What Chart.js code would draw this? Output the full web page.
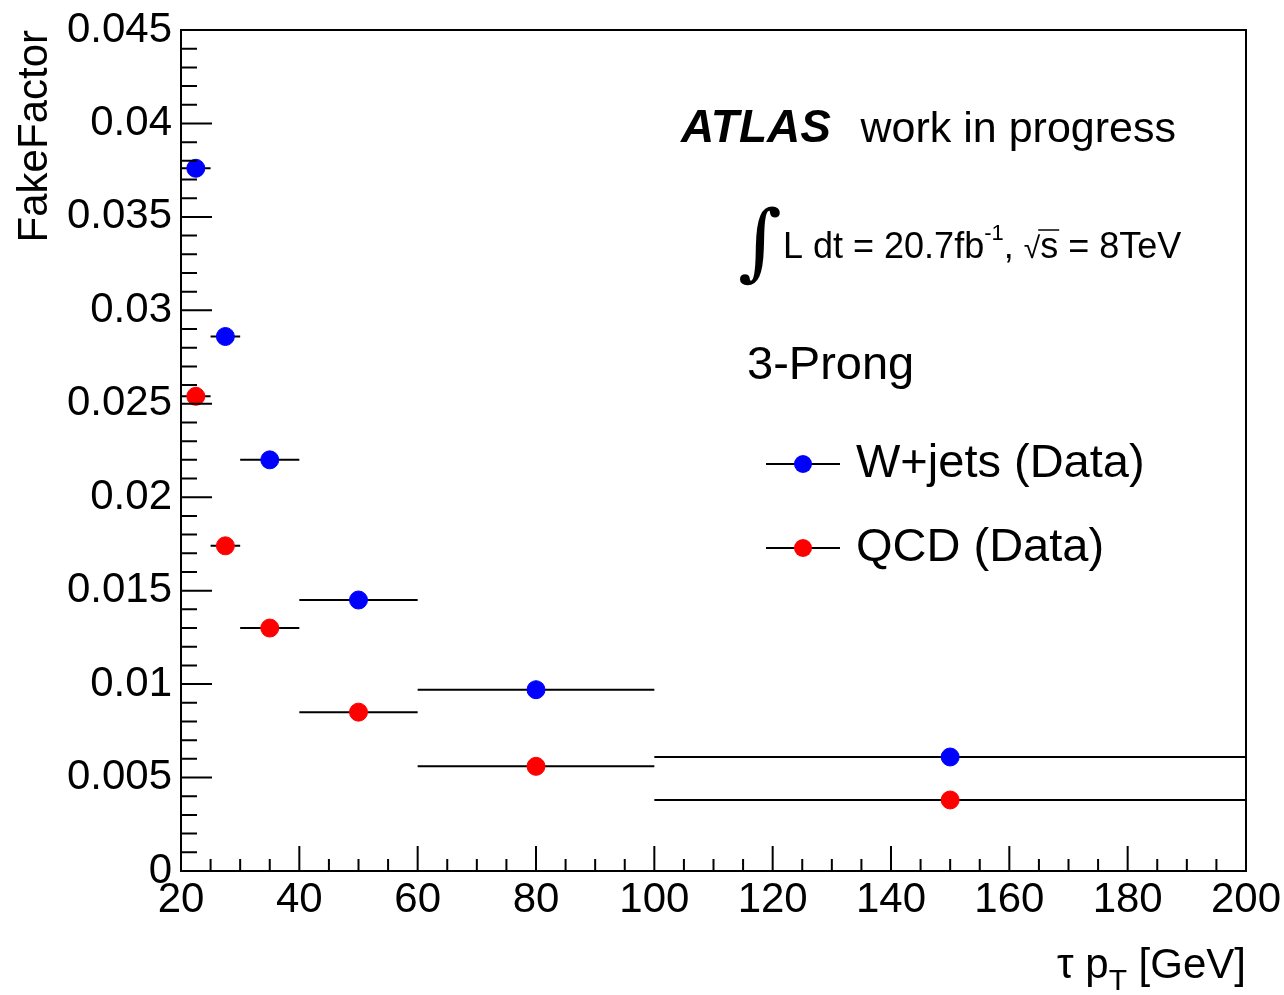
<!DOCTYPE html>
<html>
<head>
<meta charset="utf-8">
<title>FakeFactor 3-Prong</title>
<script src="https://cdn.jsdelivr.net/npm/chart.js@4.4.0/dist/chart.umd.min.js"></script>
<style>
  html, body { margin: 0; padding: 0; background: #fff; }
  #wrap { width: 1284px; height: 995px; }
</style>
</head>
<body>
<div id="wrap"><canvas id="ff"></canvas></div>
<script>
// tau pT bins [GeV]
const binEdges = [20, 25, 30, 40, 60, 100, 200];
const binCenters = [22.5, 27.5, 35, 50, 80, 150];

// fake factors
const wjetsFF = [0.0376, 0.0286, 0.0220, 0.0145, 0.0097, 0.0061];
const qcdFF = [0.0254, 0.0174, 0.0130, 0.0085, 0.0056, 0.0038];

const xTicks = [20, 40, 60, 80, 100, 120, 140, 160, 180, 200];
const yTicks = [0, 0.005, 0.01, 0.015, 0.02, 0.025, 0.03, 0.035, 0.04, 0.045];

const FONT = '"Liberation Sans", Arial, Helvetica, sans-serif';

function points(vals) {
    return binCenters.map((x, i) => ({ x: x, y: vals[i] }));
}

// horizontal bars = bin widths, broken by null points
function xErrors(vals) {
    const out = [];
    vals.forEach((v, i) => {
        out.push({ x: binEdges[i], y: v });
        out.push({ x: binEdges[i + 1], y: v });
        out.push({ x: binEdges[i + 1], y: null });
    });
    return out;
}

// ROOT style inward ticks, frame, labels
const rootStyle = {
    id: 'rootStyle',
    afterDraw(chart) {
        const ctx = chart.ctx;
        const a = chart.chartArea;
        const xs = chart.scales.x, ys = chart.scales.y;
        ctx.save();
        ctx.strokeStyle = '#000';
        ctx.lineWidth = 2;
        ctx.beginPath();
        for (let v = 20; v <= 200; v += 5) {
            const px = xs.getPixelForValue(v);
            const len = (v % 20 === 0) ? 25 : 12;
            ctx.moveTo(px, a.bottom);
            ctx.lineTo(px, a.bottom - len);
        }
        for (let k = 0; k <= 45; k++) {
            const py = ys.getPixelForValue(k / 1000);
            const len = (k % 5 === 0) ? 31 : 16;
            ctx.moveTo(a.left, py);
            ctx.lineTo(a.left + len, py);
        }
        ctx.stroke();
        ctx.strokeRect(a.left, a.top, a.right - a.left, a.bottom - a.top);

        ctx.fillStyle = '#000';
        ctx.textBaseline = 'alphabetic';

        // x title: tau p_T [GeV]
        ctx.font = '42px ' + FONT;
        const t1 = '\u03C4 p', t3 = ' [GeV]';
        const w3 = ctx.measureText(t3).width;
        ctx.font = '30px ' + FONT;
        const w2 = ctx.measureText('T').width;
        ctx.font = '42px ' + FONT;
        const w1 = ctx.measureText(t1).width;
        let x = a.right - w1 - w2 - w3;
        const base = 978;
        ctx.fillText(t1, x, base);
        ctx.font = '30px ' + FONT;
        ctx.fillText('T', x + w1, base + 12);
        ctx.font = '42px ' + FONT;
        ctx.fillText(t3, x + w1 + w2, base);

        // ATLAS label
        ctx.font = 'italic bold 46px ' + FONT;
        ctx.fillText('ATLAS', 681, 142);
        ctx.font = '43px ' + FONT;
        ctx.textAlign = 'right';
        ctx.fillText('work in progress', 1176, 142);
        ctx.textAlign = 'left';

        // luminosity line
        ctx.font = '84px "DejaVu Serif", "Liberation Serif", serif';
        ctx.fillText('\u222B', 738, 270);
        let lx = 783;
        const ly = 258;
        const seg = (s, f, dy) => {
            ctx.font = f;
            ctx.fillText(s, lx, ly + (dy || 0));
            lx += ctx.measureText(s).width;
        };
        seg('L dt = 20.7fb', '36px ' + FONT);
        seg('-1', '22px ' + FONT, -18);
        seg(', ', '36px ' + FONT);
        seg('\u221A', '30px ' + FONT);
        const sx = lx;
        seg('s', '36px ' + FONT);
        ctx.lineWidth = 1.5;
        ctx.beginPath();
        ctx.moveTo(sx - 2, ly - 28);
        ctx.lineTo(lx + 1, ly - 28);
        ctx.stroke();
        seg(' = 8TeV', '36px ' + FONT);

        ctx.font = '47px ' + FONT;
        ctx.fillText('3-Prong', 747, 379);

        // legend
        const entries = [
            { label: 'W+jets (Data)', color: '#0000ff', y: 464 },
            { label: 'QCD (Data)', color: '#ff0000', y: 548 }
        ];
        entries.forEach(e => {
            ctx.lineWidth = 2;
            ctx.strokeStyle = '#000';
            ctx.beginPath();
            ctx.moveTo(766, e.y);
            ctx.lineTo(840, e.y);
            ctx.stroke();
            ctx.fillStyle = e.color;
            ctx.beginPath();
            ctx.arc(803, e.y, 9, 0, Math.PI * 2);
            ctx.fill();
            ctx.fillStyle = '#000';
            ctx.font = '47px ' + FONT;
            ctx.textBaseline = 'middle';
            ctx.fillText(e.label, 856, e.y);
            ctx.textBaseline = 'alphabetic';
        });
        ctx.restore();
    }
};

const ctx = document.getElementById('ff').getContext('2d');
new Chart(ctx, {
    type: 'scatter',
    data: {
        datasets: [
            {
                label: 'W+jets (Data)',
                data: points(wjetsFF),
                backgroundColor: '#0000ff',
                borderColor: '#0000ff',
                pointRadius: 9,
                pointHoverRadius: 9,
                order: 0
            },
            {
                label: 'QCD (Data)',
                data: points(qcdFF),
                backgroundColor: '#ff0000',
                borderColor: '#ff0000',
                pointRadius: 9,
                pointHoverRadius: 9,
                order: 0
            },
            {
                label: 'W+jets bins',
                data: xErrors(wjetsFF),
                showLine: true,
                spanGaps: false,
                borderColor: '#000',
                borderWidth: 2,
                pointRadius: 0,
                order: 1
            },
            {
                label: 'QCD bins',
                data: xErrors(qcdFF),
                showLine: true,
                spanGaps: false,
                borderColor: '#000',
                borderWidth: 2,
                pointRadius: 0,
                order: 1
            }
        ]
    },
    options: {
        responsive: true,
        maintainAspectRatio: false,
        animation: false,
        layout: { padding: { top: 30, right: 38, left: 0, bottom: 0 } },
        plugins: {
            legend: { display: false },
            tooltip: { enabled: false }
        },
        scales: {
            x: {
                type: 'linear',
                min: 20,
                max: 200,
                afterBuildTicks: s => { s.ticks = xTicks.map(v => ({ value: v })); },
                afterFit: s => {
                    s.height = 124;
                    s.paddingLeft = 0;
                    s.paddingRight = 0;
                },
                grid: { display: false, drawTicks: false },
                border: { display: true, color: '#000', width: 2 },
                ticks: {
                    color: '#000',
                    padding: 4,
                    maxRotation: 0,
                    font: { family: FONT, size: 42 }
                }
            },
            y: {
                type: 'linear',
                min: 0,
                max: 0.045,
                afterBuildTicks: s => { s.ticks = yTicks.map(v => ({ value: v })); },
                afterFit: s => {
                    s.width = 181;
                    s.paddingTop = 0;
                    s.paddingBottom = 0;
                },
                grid: { display: false, drawTicks: false },
                border: { display: true, color: '#000', width: 2 },
                title: {
                    display: true,
                    text: 'FakeFactor',
                    align: 'end',
                    color: '#000',
                    padding: { top: 10 },
                    font: { family: FONT, size: 42 }
                },
                ticks: {
                    color: '#000',
                    padding: 9,
                    font: { family: FONT, size: 42 },
                    callback: v => String(parseFloat(v.toFixed(3)))
                }
            }
        }
    },
    plugins: [rootStyle]
});
</script>
</body>
</html>
